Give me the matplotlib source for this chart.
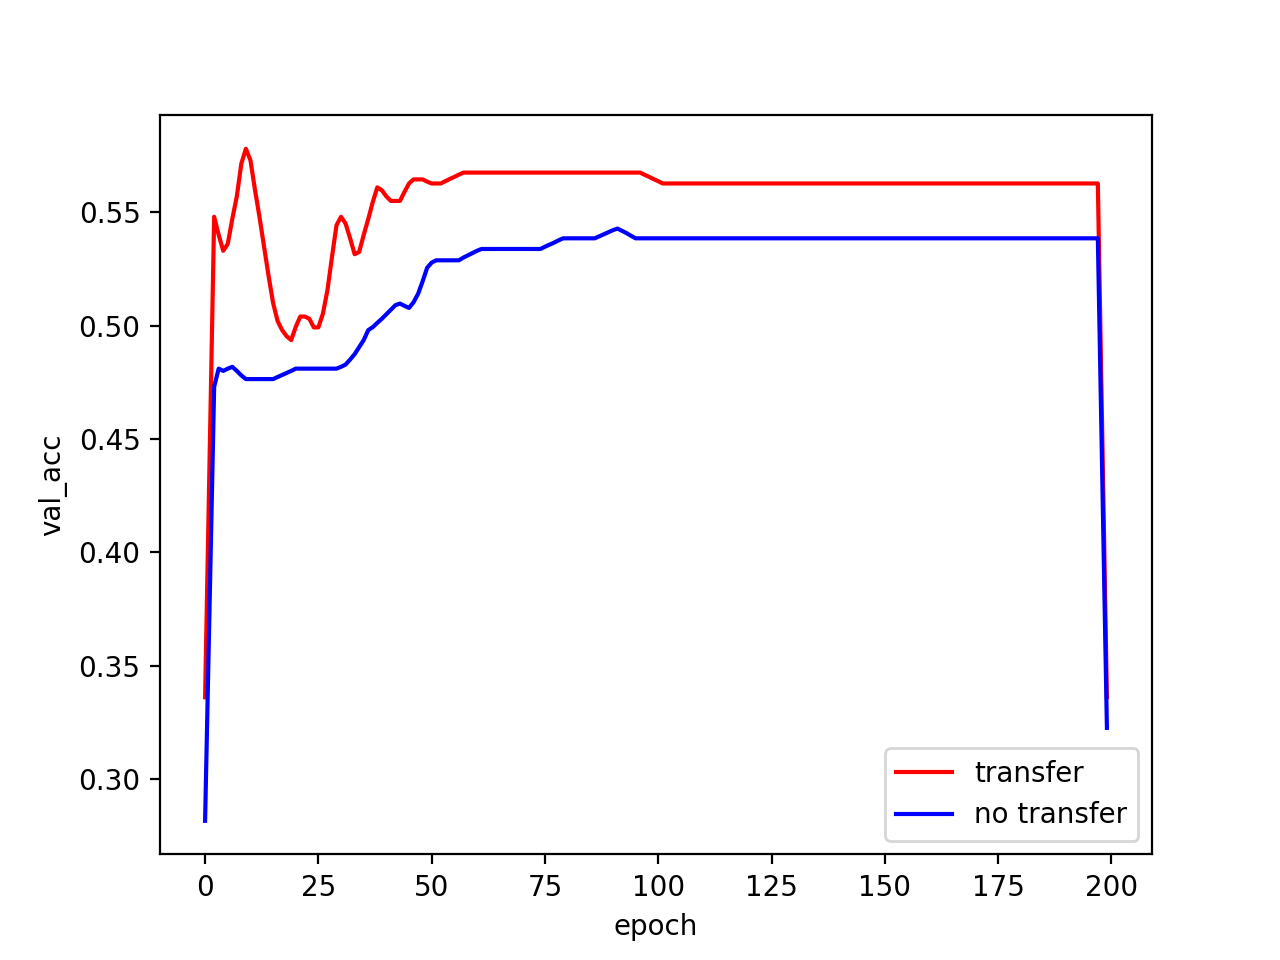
import matplotlib
matplotlib.use("Agg")
import matplotlib.pyplot as plt
import numpy as np

# validation accuracy per epoch
transfer = (
    [0.336, 0.442, 0.548, 0.540, 0.533, 0.536, 0.547, 0.557, 0.5715, 0.578,
     0.573, 0.560, 0.548, 0.535, 0.522, 0.510, 0.502, 0.498, 0.4953, 0.4936,
     0.4994, 0.504, 0.504, 0.503, 0.4992, 0.4992, 0.5053, 0.5156, 0.5303, 0.5443,
     0.548, 0.545, 0.5385, 0.5315, 0.5325, 0.540, 0.547, 0.5545, 0.561, 0.5597,
     0.557, 0.555, 0.555, 0.555, 0.559, 0.5627, 0.5645, 0.5645, 0.5645, 0.5635,
     0.5627, 0.5627, 0.5627, 0.5637, 0.5647, 0.5656, 0.5666]
    + [0.5675] * 40
    + [0.5665, 0.5656, 0.5646, 0.5637]
    + [0.5627] * 97
    + [0.449, 0.336]
)

no_transfer = (
    [0.2815, 0.377, 0.473, 0.481, 0.480, 0.481, 0.4818, 0.480, 0.478, 0.4764]
    + [0.4764] * 6
    + [0.4773, 0.4782, 0.4791, 0.4800, 0.481]
    + [0.481] * 9
    + [0.4818, 0.4828, 0.485, 0.4874, 0.4905, 0.4936, 0.498, 0.4993, 0.5012, 0.503,
       0.505, 0.507, 0.509, 0.5097, 0.5087, 0.5078, 0.5103, 0.514, 0.5195, 0.5255,
       0.5278, 0.5288]
    + [0.5288] * 5
    + [0.530, 0.531, 0.532, 0.533]
    + [0.5338] * 14
    + [0.5348, 0.5357, 0.5366, 0.5376]
    + [0.5385] * 8
    + [0.5394, 0.5403, 0.5412, 0.5421, 0.5428, 0.5418, 0.5408, 0.5396]
    + [0.5385] * 103
    + [0.430, 0.3225]
)

epochs = np.arange(len(transfer))

fig, ax = plt.subplots(figsize=(6.4, 4.8), dpi=200)
ax.plot(epochs, transfer, color="red", label="transfer")
ax.plot(epochs, no_transfer, color="blue", label="no transfer")
ax.set_xlabel("epoch")
ax.set_ylabel("val_acc")
ax.legend(loc="lower right")
fig.savefig("out.png", dpi=200)
